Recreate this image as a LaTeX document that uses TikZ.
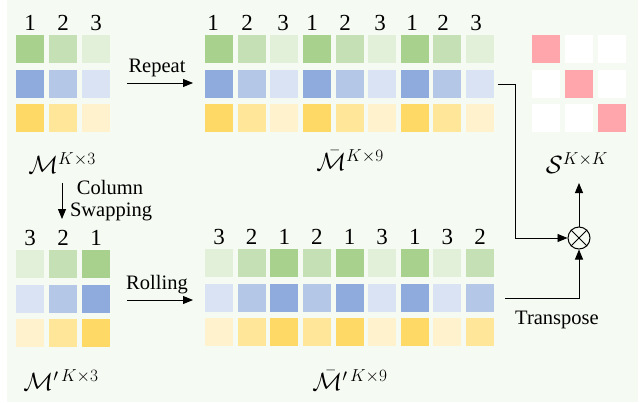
\documentclass[tikz,border=0pt]{standalone}
\usepackage{fontspec}
\setmainfont{LiberationSerif}[Extension=.ttf, UprightFont=*-Regular, ItalicFont=*-Italic, BoldFont=*-Bold]
\usetikzlibrary{arrows.meta}
\definecolor{g1}{HTML}{A9D18E}
\definecolor{g2}{HTML}{C5E0B4}
\definecolor{g3}{HTML}{E2F0D9}
\definecolor{b1}{HTML}{8FAADC}
\definecolor{b2}{HTML}{B4C7E7}
\definecolor{b3}{HTML}{DAE3F3}
\definecolor{y1}{HTML}{FFD966}
\definecolor{y2}{HTML}{FFE699}
\definecolor{y3}{HTML}{FFF2CC}
\definecolor{pk}{HTML}{FFA6AC}
\definecolor{bgc}{HTML}{F5FAF2}
\begin{document}
\begin{tikzpicture}[x=1pt,y=-1pt,
  cell/.style={minimum size=28pt, inner sep=0pt, outer sep=0pt},
  num/.style={font=\rmfamily\fontsize{23}{26}\selectfont, inner sep=0pt},
  txt/.style={font=\rmfamily\fontsize{20.5}{24}\selectfont, inner sep=0pt},
  mlab/.style={font=\fontsize{24}{28}\selectfont, inner sep=0pt},
  arr/.style={-{Triangle[length=10pt,width=8pt]}, line width=0.9pt},
  ln/.style={line width=0.9pt}]
\useasboundingbox (0,0) rectangle (640,402);
\fill[bgc] (7,0) rectangle (638,402);

% Matrix M (top left)
\foreach \c [count=\i] in {1,2,3} {
  \pgfmathsetmacro\xx{30+33*(\i-1)}
  \node[cell,fill=g\c] (a1\i) at (\xx,49) {};
  \node[cell,fill=b\c] (a2\i) at (\xx,84) {};
  \node[cell,fill=y\c] (a3\i) at (\xx,118) {};
  \node[num] (an\i) at (\xx,23) {\c};
}

% Matrix M bar (top middle)
\foreach \c/\lx [count=\i] in {1/213,2/247,3/283,1/312,2/345,3/380,1/412,2/443,3/476} {
  \pgfmathsetmacro\xx{219+32.625*(\i-1)}
  \node[cell,fill=g\c] (b1\i) at (\xx,49) {};
  \node[cell,fill=b\c] (b2\i) at (\xx,84) {};
  \node[cell,fill=y\c] (b3\i) at (\xx,118) {};
  \node[num] (bn\i) at (\lx,23) {\c};
}

% Matrix S
\foreach \i in {1,2,3} {
  \pgfmathsetmacro\xx{546+33*(\i-1)}
  \node[cell,fill=white] (s1\i) at (\xx,49) {};
  \node[cell,fill=white] (s2\i) at (\xx,84) {};
  \node[cell,fill=white] (s3\i) at (\xx,118) {};
}
\node[cell,fill=pk] at (s11) {};
\node[cell,fill=pk] at (s22) {};
\node[cell,fill=pk] at (s33) {};

% Matrix M' (bottom left)
\foreach \c [count=\i] in {3,2,1} {
  \pgfmathsetmacro\xx{30+33*(\i-1)}
  \node[cell,fill=g\c] (c1\i) at (\xx,264) {};
  \node[cell,fill=b\c] (c2\i) at (\xx,299) {};
  \node[cell,fill=y\c] (c3\i) at (\xx,333) {};
  \node[num] (cn\i) at (\xx,238) {\c};
}

% Matrix M bar prime (bottom middle)
\foreach \c [count=\i] in {3,2,1,2,1,3,1,3,2} {
  \pgfmathsetmacro\xx{219+32.625*(\i-1)}
  \node[cell,fill=g\c] (d1\i) at (\xx,263) {};
  \node[cell,fill=b\c] (d2\i) at (\xx,298) {};
  \node[cell,fill=y\c] (d3\i) at (\xx,332) {};
  \node[num] (dn\i) at (\xx,237) {\c};
}

% Labels
\node[mlab] (lm) at (62,163) {$\mathcal{M}^{K\times 3}$};
\node[mlab] (lmb) at (350,160) {$\bar{\mathcal{M}}^{K\times 9}$};
\node[mlab] (ls) at (577,163) {$\mathcal{S}^{K\times K}$};
\node[mlab] (lmp) at (61,380) {$\mathcal{M}'^{\,K\times 3}$};
\node[mlab] (lmbp) at (350,380) {$\bar{\mathcal{M}}'^{\,K\times 9}$};

\node[txt] (trep) at (157,68) {Repeat};
\node[txt] (tcol) at (110,187) {Column};
\node[txt] (tswp) at (111,212) {Swapping};
\node[txt] (troll) at (157,285) {Rolling};
\node[txt] (ttr) at (557,320) {Transpose};

% operator
\node[circle, draw, line width=1pt, minimum size=22pt, inner sep=0pt] (ot) at (579,238) {};
\draw[line width=1pt] (ot.north west) -- (ot.south east) (ot.north east) -- (ot.south west);

% connectors
\coordinate (rs) at (127,83); \coordinate (re) at (193,83);
\draw[arr] (rs) -- (re);
\coordinate (ks) at (127,300); \coordinate (ke) at (193,300);
\draw[arr] (ks) -- (ke);
\coordinate (cs) at (62,183); \coordinate (ce) at (62,219);
\draw[arr] (cs) -- (ce);
\draw[arr] ([xshift=4pt]b29.east) -- ++(17,0) |- (ot.west);
\draw[arr] ([xshift=11pt]d29.east) -| (ot.south);
\coordinate (se) at (579,183);
\draw[arr] (ot.north) -- (se);
\end{tikzpicture}
\end{document}
